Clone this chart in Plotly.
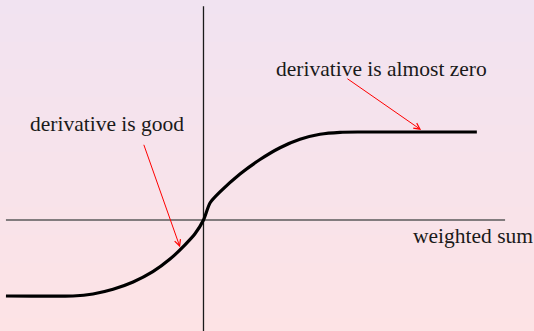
import plotly.graph_objects as go

# Activation curve (weighted sum -> output)
weighted_sum = [-5.81, -3.84, -3.25, -2.66, -2.07, -1.49, -0.985, -0.544, -0.25,
                0.0, 0.191, 0.485, 1.074, 1.662, 2.25, 2.838, 3.426, 4.015, 4.603, 8.04]
output = [-2.235, -2.235, -2.176, -2.038, -1.824, -1.521, -1.15, -0.73, -0.405,
          0.0, 0.50, 0.824, 1.353, 1.779, 2.126, 2.374, 2.521, 2.579, 2.588, 2.588]

# Axis extents
x_axis_span = [-5.81, 8.87]
y_axis_span = [-3.3, 6.29]
x_range = [-5.985, 9.721]
y_range = [-3.265, 6.471]

label_font = dict(family="Liberation Serif", size=21.5, color="#1a1a1a")
top_color = "rgb(241,227,241)"
bottom_color = "rgb(253,227,229)"

fig = go.Figure()

# soft vertical background gradient
fig.add_trace(go.Heatmap(
    x=x_range, y=y_range, z=[[0, 0], [1, 1]],
    colorscale=[[0, bottom_color], [1, top_color]],
    zsmooth="best", showscale=False, hoverinfo="skip",
))

# coordinate axes
fig.add_trace(go.Scatter(
    x=x_axis_span, y=[0, 0], mode="lines",
    line=dict(color="#5a5a5a", width=1.4), hoverinfo="skip", showlegend=False,
))
fig.add_trace(go.Scatter(
    x=[0, 0], y=y_axis_span, mode="lines",
    line=dict(color="#1a1a1a", width=1.3), hoverinfo="skip", showlegend=False,
))

fig.add_trace(go.Scatter(
    x=weighted_sum, y=output, mode="lines",
    line=dict(color="black", width=3.2, shape="spline", smoothing=0.6),
    hoverinfo="skip", showlegend=False,
))

# labels
fig.add_annotation(x=5.25, y=4.43, xref="x", yref="y", text="derivative is almost zero",
                   showarrow=False, font=label_font, xanchor="center", yanchor="middle")
fig.add_annotation(x=-2.85, y=2.81, xref="x", yref="y", text="derivative is good",
                   showarrow=False, font=label_font, xanchor="center", yanchor="middle")
fig.add_annotation(x=7.915, y=-0.47, xref="x", yref="y", text="weighted sum",
                   showarrow=False, font=label_font, xanchor="center", yanchor="middle")

# pointer arrows
fig.add_annotation(x=6.40, y=2.65, ax=4.19, ay=4.185, xref="x", yref="y", axref="x", ayref="y",
                   text="", showarrow=True, arrowhead=5, arrowsize=1.2, arrowwidth=1,
                   arrowcolor="#ff0000", standoff=0, startstandoff=0)
fig.add_annotation(x=-0.69, y=-0.80, ax=-1.77, ay=2.256, xref="x", yref="y", axref="x", ayref="y",
                   text="", showarrow=True, arrowhead=5, arrowsize=1.2, arrowwidth=1,
                   arrowcolor="#ff0000", standoff=0, startstandoff=0)

fig.update_xaxes(range=x_range, visible=False, showgrid=False, zeroline=False)
fig.update_yaxes(range=y_range, visible=False, showgrid=False, zeroline=False)
fig.update_layout(
    width=534, height=331, margin=dict(l=0, r=0, t=0, b=0),
    paper_bgcolor=top_color, plot_bgcolor=top_color, showlegend=False,
)

fig.write_html("out.html", config={"displayModeBar": False})
